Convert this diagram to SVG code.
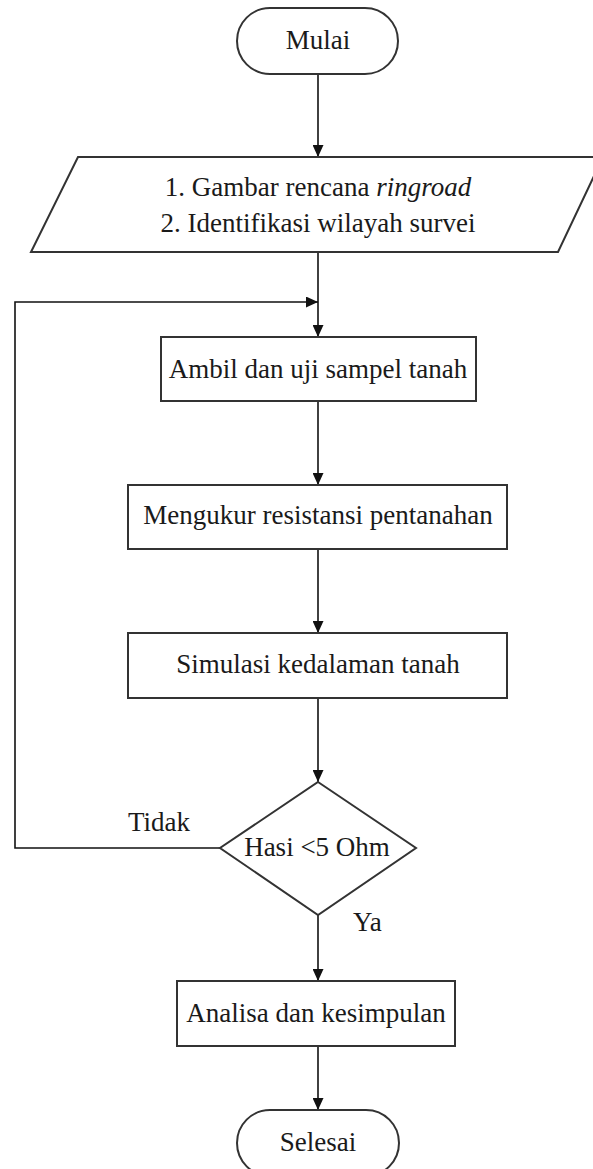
<svg xmlns="http://www.w3.org/2000/svg" width="593" height="1169" viewBox="0 0 593 1169">
<defs>
<marker id="arr" viewBox="0 0 12 11" refX="12" refY="5.5" markerWidth="12" markerHeight="11" markerUnits="userSpaceOnUse" orient="auto">
<path d="M0,0 L12,5.5 L0,11 z" fill="#111"/>
</marker>
<style>
.shape{fill:#fff;stroke:#333;stroke-width:2}
.conn{fill:none;stroke:#111;stroke-width:1.6}
text{font-family:"Liberation Serif","Times New Roman",serif;font-size:27px;fill:#1a1a1a}
.c{text-anchor:middle}
</style>
</defs>
<rect width="593" height="1169" fill="#fff"/>
<g id="connectors">
<line class="conn" x1="318" y1="74" x2="318" y2="157" marker-end="url(#arr)"/>
<line class="conn" x1="318" y1="252" x2="318" y2="337" marker-end="url(#arr)"/>
<polyline class="conn" points="220,848 15,848 15,302 318,302" marker-end="url(#arr)"/>
<line class="conn" x1="318" y1="401" x2="318" y2="485" marker-end="url(#arr)"/>
<line class="conn" x1="318" y1="549" x2="318" y2="633" marker-end="url(#arr)"/>
<line class="conn" x1="318" y1="698" x2="318" y2="782" marker-end="url(#arr)"/>
<line class="conn" x1="318" y1="915" x2="318" y2="981" marker-end="url(#arr)"/>
<line class="conn" x1="318" y1="1046" x2="318" y2="1110" marker-end="url(#arr)"/>
<text x="128" y="831">Tidak</text>
<text x="353" y="931">Ya</text>
</g>
<g id="start">
<rect class="shape" x="237" y="8" width="161" height="66" rx="33" ry="33"/>
<text class="c" x="318" y="49">Mulai</text>
</g>
<g id="input">
<polygon class="shape" points="78,157 603,157 558,252 31,252"/>
<text class="c" x="318" y="196">1. Gambar rencana <tspan font-style="italic">ringroad</tspan></text>
<text class="c" x="318" y="232">2. Identifikasi wilayah survei</text>
</g>
<g id="sample">
<rect class="shape" x="161" y="337" width="315" height="64"/>
<text class="c" x="318" y="378">Ambil dan uji sampel tanah</text>
</g>
<g id="measure">
<rect class="shape" x="128" y="485" width="379" height="64"/>
<text class="c" x="318" y="524">Mengukur resistansi pentanahan</text>
</g>
<g id="simulate">
<rect class="shape" x="128" y="633" width="379" height="65"/>
<text class="c" x="318" y="673">Simulasi kedalaman tanah</text>
</g>
<g id="decision">
<polygon class="shape" points="318,782 416,848 318,915 220,848"/>
<text class="c" x="317" y="856">Hasi &lt;5 Ohm</text>
</g>
<g id="analysis">
<rect class="shape" x="177" y="981" width="278" height="65"/>
<text class="c" x="316" y="1022">Analisa dan kesimpulan</text>
</g>
<g id="end">
<rect class="shape" x="237" y="1110" width="162" height="66" rx="33" ry="33"/>
<text class="c" x="318" y="1151">Selesai</text>
</g>
</svg>
